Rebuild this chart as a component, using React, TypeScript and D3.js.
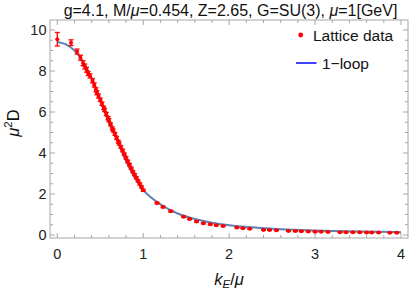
import { useEffect, useRef } from "react";
import * as d3 from "d3";

// lattice data: momentum k/mu, mu^2 D, error
const latticeK = [
  0.0, 0.16, 0.23, 0.27, 0.3, 0.32, 0.34, 0.36, 0.38, 0.41, 0.43, 0.45, 0.46, 0.48,
  0.5, 0.52, 0.54, 0.55, 0.57, 0.59, 0.6, 0.62, 0.64, 0.65, 0.67, 0.69, 0.71, 0.72,
  0.74, 0.76, 0.78, 0.8, 0.82, 0.84, 0.86, 0.88, 0.9, 0.92, 0.94, 0.96, 0.98, 1.0,
  1.16, 1.23, 1.32, 1.47, 1.54, 1.62, 1.7, 1.78, 1.85, 1.93, 2.09, 2.16, 2.24, 2.4,
  2.47, 2.55, 2.69, 2.77, 2.84, 2.92, 3.0, 3.07, 3.15, 3.29, 3.36, 3.44, 3.52, 3.6,
  3.66, 3.74, 3.87, 3.95,
];
const latticeD = [
  9.55, 9.38, 8.95, 8.65, 8.38, 8.22, 8.06, 7.88, 7.76, 7.52, 7.32, 7.08, 6.94, 6.78,
  6.6, 6.4, 6.2, 6.1, 5.9, 5.7, 5.6, 5.4, 5.2, 5.1, 4.93, 4.74, 4.55, 4.46,
  4.29, 4.12, 3.94, 3.76, 3.59, 3.43, 3.26, 3.09, 2.94, 2.79, 2.64, 2.49, 2.34, 2.18,
  1.56, 1.37, 1.16, 0.89, 0.78, 0.66, 0.57, 0.52, 0.48, 0.44, 0.36, 0.33, 0.3, 0.25,
  0.24, 0.23, 0.2, 0.19, 0.18, 0.17, 0.16, 0.16, 0.15, 0.14, 0.13, 0.13, 0.13, 0.12,
  0.12, 0.12, 0.11, 0.11,
];
const latticeErr = [
  0.33, 0.14, 0.12, 0.12, 0.12, 0.12, 0.12, 0.1, 0.1, 0.1, 0.1, 0.1, 0.1, 0.1,
  0.08, 0.08, 0.08, 0.08, 0.08, 0.08, 0.08, 0.07, 0.07, 0.07, 0.07, 0.07, 0.07, 0.07,
  0.06, 0.06, 0.06, 0.06, 0.06, 0.06, 0.05, 0.05, 0.05, 0.05, 0.05, 0.05, 0.05, 0.05,
  0.04, 0.04, 0.04, 0.03, 0.03, 0.03, 0.03, 0.03, 0.03, 0.03, 0.02, 0.02, 0.02, 0.02,
  0.02, 0.02, 0.02, 0.02, 0.02, 0.02, 0.02, 0.02, 0.02, 0.02, 0.02, 0.02, 0.02, 0.02,
  0.02, 0.02, 0.02, 0.02,
];

// 1-loop curve
const loopK = [0, 0.1, 0.2, 0.3, 0.4, 0.5, 0.6, 0.7, 0.8, 0.9, 1.0, 1.2, 1.4, 1.6, 1.8, 2.0, 2.25, 2.5, 2.75, 3.0, 3.5, 4.0];
const loopD = [9.42, 9.3, 9.0, 8.45, 7.65, 6.6, 5.5, 4.6, 3.6, 2.8, 2.2, 1.5, 1.05, 0.78, 0.6, 0.48, 0.38, 0.31, 0.26, 0.22, 0.17, 0.14];

const xTicks = [0, 1, 2, 3, 4];
const yTicks = [0, 2, 4, 6, 8, 10];

export default function App() {
  const svgRef = useRef<SVGSVGElement | null>(null);

  useEffect(() => {
    if (!svgRef.current) return;
    const width = 409;
    const height = 293;
    const svg = d3.select(svgRef.current);
    svg.selectAll("*").remove();

    const left = 50, right = 408, top = 20, bottom = 238;
    const x = d3.scaleLinear().domain([0, 4]).range([57.3, 401]);
    const y = d3.scaleLinear().domain([0, 10]).range([235, 30]);
    const font = "'Liberation Sans', Arial, sans-serif";
    const frameCol = "#a6a6a6";

    // frame
    svg.append("rect")
      .attr("x", left).attr("y", top)
      .attr("width", right - left).attr("height", bottom - top)
      .attr("fill", "none").attr("stroke", frameCol).attr("stroke-width", 1);

    const tk = svg.append("g").attr("stroke", frameCol).attr("stroke-width", 1);
    const xMinor = d3.range(0, 4.01, 0.2);
    xMinor.forEach((v) => {
      const major = Math.abs(v - Math.round(v)) < 1e-6;
      const len = major ? 5 : 3;
      tk.append("line").attr("x1", x(v)).attr("x2", x(v)).attr("y1", bottom).attr("y2", bottom - len);
      tk.append("line").attr("x1", x(v)).attr("x2", x(v)).attr("y1", top).attr("y2", top + len);
    });
    const yMinor = d3.range(0, 10.01, 0.5);
    yMinor.forEach((v) => {
      const major = Math.abs(v / 2 - Math.round(v / 2)) < 1e-6;
      const len = major ? 5 : 3;
      tk.append("line").attr("y1", y(v)).attr("y2", y(v)).attr("x1", left).attr("x2", left + len);
      tk.append("line").attr("y1", y(v)).attr("y2", y(v)).attr("x1", right).attr("x2", right - len);
    });

    svg.append("g").selectAll("text").data(xTicks).join("text")
      .attr("x", (d) => x(d)).attr("y", 258.5)
      .attr("text-anchor", "middle")
      .attr("font-family", font).attr("font-size", 14.5).attr("fill", "#222")
      .text((d) => d);
    svg.append("g").selectAll("text").data(yTicks).join("text")
      .attr("x", 46.5).attr("y", (d) => y(d) + 5)
      .attr("text-anchor", "end")
      .attr("font-family", font).attr("font-size", 14.5).attr("fill", "#222")
      .text((d) => d);

    // 1-loop curve
    const loop = loopK.map((k, i) => [k, loopD[i]] as [number, number]);
    svg.append("path")
      .datum(loop)
      .attr("fill", "none")
      .attr("stroke", "#5e81b5")
      .attr("stroke-width", 2)
      .attr("d", d3.line<[number, number]>()
        .x((d) => x(d[0]))
        .y((d) => y(d[1]))
        .curve(d3.curveMonotoneX));

    // lattice points with error bars
    const pts = latticeK.map((k, i) => ({ k, v: latticeD[i], e: latticeErr[i] }));
    const g = svg.append("g").attr("stroke", "#ff0000").attr("stroke-width", 1.3);
    pts.forEach((p) => {
      const cx = x(p.k);
      const y1 = y(p.v + p.e), y2 = y(p.v - p.e);
      g.append("line").attr("x1", cx).attr("x2", cx).attr("y1", y1).attr("y2", y2);
      g.append("line").attr("x1", cx - 2.5).attr("x2", cx + 2.5).attr("y1", y1).attr("y2", y1);
      g.append("line").attr("x1", cx - 2.5).attr("x2", cx + 2.5).attr("y1", y2).attr("y2", y2);
    });
    svg.append("g").selectAll("circle").data(pts).join("circle")
      .attr("cx", (d) => x(d.k)).attr("cy", (d) => y(d.v))
      .attr("r", 2).attr("fill", "#ff0000");

    // legend
    svg.append("circle").attr("cx", 300.7).attr("cy", 35).attr("r", 2.4).attr("fill", "#ff0000");
    svg.append("text").attr("x", 313).attr("y", 40.5)
      .attr("font-family", font).attr("font-size", 15.5).attr("fill", "#111")
      .text("Lattice data");
    svg.append("line").attr("x1", 296).attr("x2", 316.5).attr("y1", 63).attr("y2", 63)
      .attr("stroke", "#0000ff").attr("stroke-width", 1.5);
    svg.append("text").attr("x", 322).attr("y", 68.5)
      .attr("font-family", font).attr("font-size", 15.5).attr("fill", "#111")
      .text("1\u2212loop");

    // title
    const title = svg.append("text").attr("x", 230.5).attr("y", 15.5)
      .attr("text-anchor", "middle")
      .attr("font-family", font).attr("font-size", 16).attr("fill", "#111");
    title.append("tspan").text("g=4.1, M/");
    title.append("tspan").attr("font-style", "italic").text("\u03bc");
    title.append("tspan").text("=0.454, Z=2.65, G=SU(3), ");
    title.append("tspan").attr("font-style", "italic").text("\u03bc");
    title.append("tspan").text("=1[GeV]");

    // axis labels
    const xl = svg.append("text").attr("x", 229).attr("y", 285)
      .attr("text-anchor", "middle")
      .attr("font-family", font).attr("font-size", 16.5).attr("fill", "#111");
    xl.append("tspan").attr("font-style", "italic").text("k");
    xl.append("tspan").attr("font-style", "italic").attr("font-size", 11.5).attr("dy", 3).text("E");
    xl.append("tspan").attr("dy", -3).text("/");
    xl.append("tspan").attr("font-style", "italic").text("\u03bc");

    const yl = svg.append("text")
      .attr("transform", "translate(19,123) rotate(-90)")
      .attr("text-anchor", "middle")
      .attr("font-family", font).attr("font-size", 16.5).attr("fill", "#111");
    yl.append("tspan").attr("font-style", "italic").text("\u03bc");
    yl.append("tspan").attr("font-size", 11.5).attr("dy", -7).text("2");
    yl.append("tspan").attr("dy", 7).text("D");

    svg.attr("width", width).attr("height", height);
  }, []);

  return (
    <svg
      ref={svgRef}
      width={409}
      height={293}
      style={{ position: "absolute", left: 0, top: 0, background: "#fff" }}
    />
  );
}
